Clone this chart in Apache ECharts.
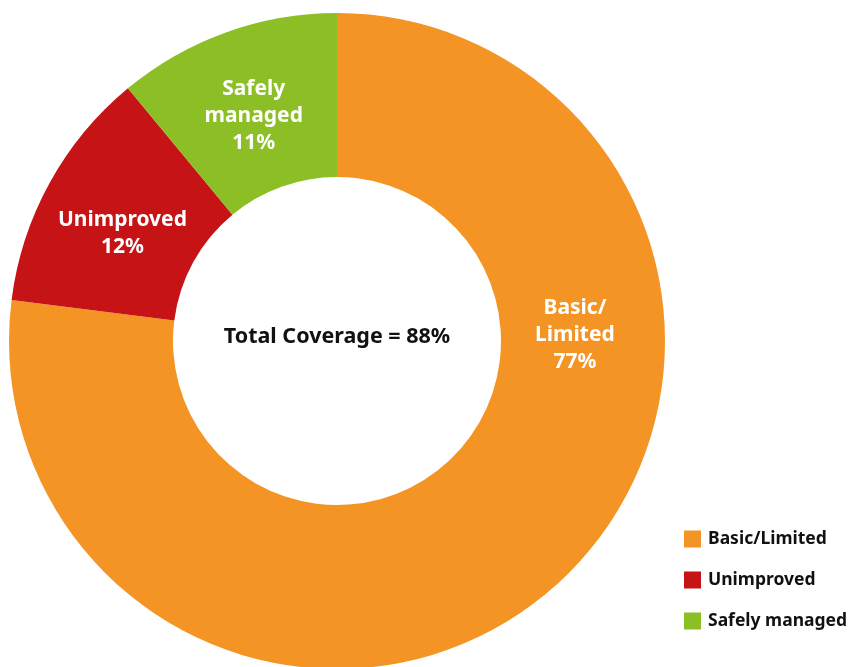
<!DOCTYPE html>
<html>
<head>
<meta charset="utf-8">
<script src="https://cdn.jsdelivr.net/npm/echarts@6/dist/echarts.min.js"></script>
<style>
  html, body { margin: 0; padding: 0; background: #ffffff; }
  #chart { width: 857px; height: 667px; }
</style>
</head>
<body>
<div id="chart"></div>
<script>
// Service coverage shares (percent)
const categories = ['Basic/Limited', 'Unimproved', 'Safely managed'];
const labelNames = ['Basic/\nLimited', 'Unimproved', 'Safely\nmanaged'];
const shares = [77, 12, 11];
const colors = ['#F39425', '#C51316', '#8CBF26'];
const centerText = 'Total Coverage = 88%';

const FONT = '"Noto Sans", "DejaVu Sans", sans-serif';

const chart = echarts.init(document.getElementById('chart'), null, { renderer: 'canvas' });

const cx = 337, cy = 341;
// Label anchors as polar offsets from the ring centre: [angle deg CCW from 3 o'clock, radius]
const labelPolar = [[1.4, 238], [153.4, 240], [110.3, 240]];

chart.setOption({
  animation: false,
  legend: {
    orient: 'vertical',
    left: 684,
    top: 530,
    padding: 0,
    icon: 'rect',
    itemWidth: 17,
    itemHeight: 17,
    itemGap: 23,
    textStyle: { fontFamily: FONT, fontWeight: 'bold', fontSize: 17.5, color: '#111', padding: [0, 0, 0, 2] },
    data: categories
  },
  graphic: [{
    type: 'text',
    z: 100,
    x: cx,
    y: cy - 4,
    style: {
      text: centerText,
      align: 'center',
      verticalAlign: 'middle',
      fontFamily: FONT,
      fontWeight: 'bold',
      fontSize: 21.5,
      fill: '#111'
    }
  }],
  series: [{
    type: 'pie',
    center: [cx, cy],
    radius: [164, 328],
    startAngle: 90,
    clockwise: true,
    avoidLabelOverlap: false,
    silent: true,
    itemStyle: { borderWidth: 0 },
    label: {
      show: true,
      position: 'inside',
      formatter: p => labelNames[p.dataIndex] + '\n' + p.value + '%',
      color: '#ffffff',
      fontFamily: FONT,
      fontWeight: 'bold',
      fontSize: 21,
      lineHeight: 27,
      align: 'center'
    },
    labelLine: { show: false },
    labelLayout: function (params) {
      const [ang, r] = labelPolar[params.dataIndex];
      const a = ang * Math.PI / 180;
      return { x: cx + r * Math.cos(a), y: cy - r * Math.sin(a), align: 'center', verticalAlign: 'middle' };
    },
    data: categories.map((name, i) => ({ name, value: shares[i], itemStyle: { color: colors[i] } }))
  }]
});
</script>
</body>
</html>
